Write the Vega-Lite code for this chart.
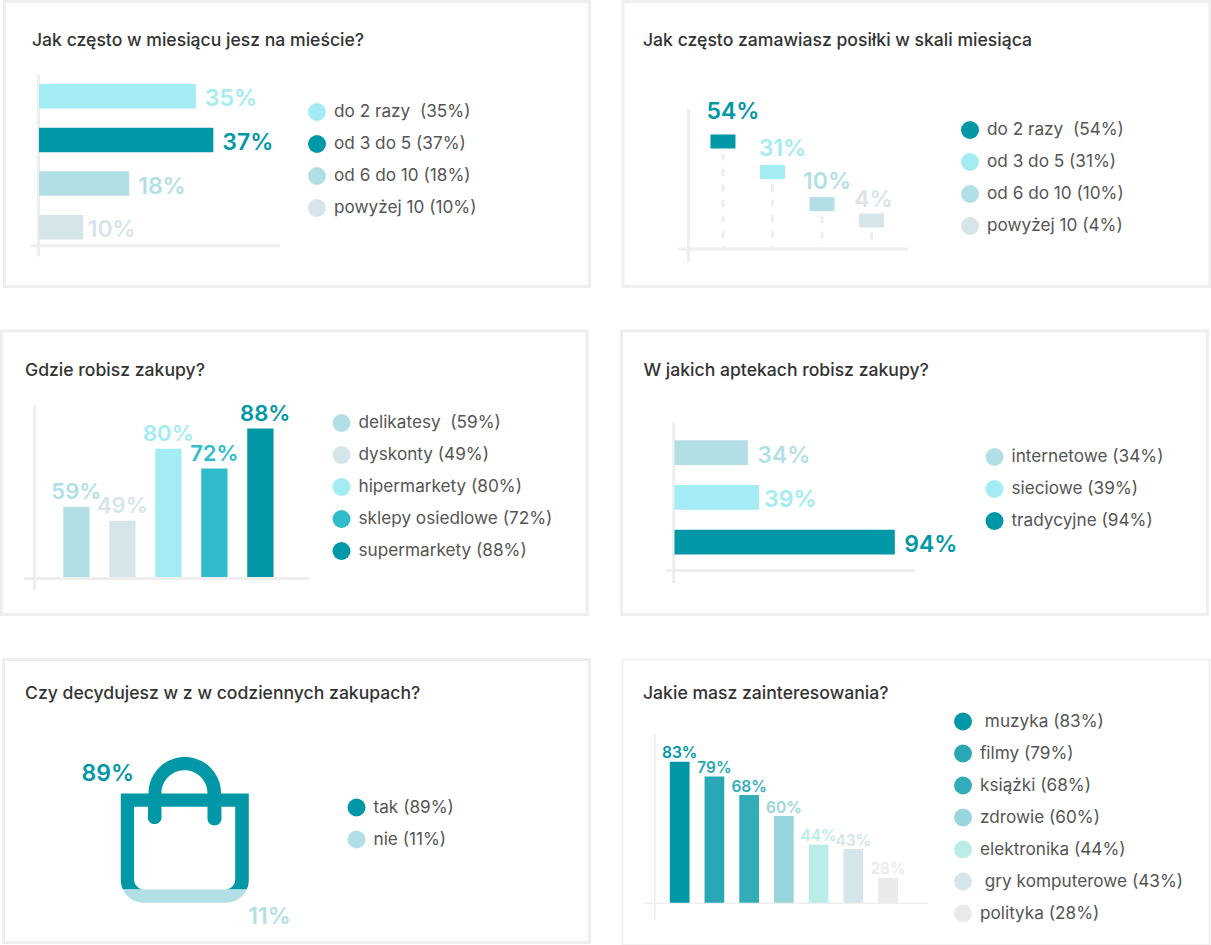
{
"$schema":"https://vega.github.io/schema/vega-lite/v6.json",
"padding":{"left":-1.5,"top":-1.5,"right":0,"bottom":0},"spacing":40.5,"background":"white",
"resolve":{"scale":{"color":"independent"}},
"config":{
"view":{"stroke":"#eeeeee","strokeWidth":3},
"axis":{"grid":false,"ticks":false,"labels":false,"domain":true,"domainColor":"#eeeeee","domainWidth":3},
"legend":{"symbolType":"circle","symbolSize":324,"symbolStrokeWidth":0,"labelFont":"Inter","labelFontSize":17.2,"labelFontWeight":400,"labelColor":"#555555","labelOffset":8,"rowPadding":14,"labelLimit":500,"symbolOpacity":1},
"title":{"font":"Inter","fontSize":17.6,"fontWeight":500,"color":"#333333","anchor":"start","frame":"group","offset":0,"baseline":"alphabetic"},
"text":{"font":"Inter","fontWeight":600,"fontSize":23}
},
"vconcat":[
{"bounds":"flush","spacing":2,"resolve":{"scale":{"color":"independent"}},"hconcat":[
{"width":1,"height":1,"data":{"values":[{}]},"mark":{"type":"point","opacity":0},"encoding":{},"view":{"stroke":null}},
{"bounds":"flush","spacing":33.5,"resolve":{"scale":{"color":"independent"}},"hconcat":[
{"width":585,"height":285,
"title":{"text":"Jak często w miesiącu jesz na mieście?","dx":27.5,"dy":52.5},
"data":{"values":[
{"kategoria":"do 2 razy \u00a0(35%)","value":34.1,"pct":"35%"},
{"kategoria":"od 3 do 5 (37%)","value":37.9,"pct":"37%"},
{"kategoria":"od 6 do 10 (18%)","value":19.6,"pct":"18%"},
{"kategoria":"powyżej 10 (10%)","value":9.6,"pct":"10%"}]},
"encoding":{
"x":{"field":"value","type":"quantitative","stack":null,"title":null,"scale":{"domain":[-1.957,52.28],"range":[25.5,275],"nice":false,"zero":false},"axis":{"offset":-41.2}},
"y":{"field":"kategoria","type":"nominal","sort":null,"title":null,"scale":{"range":[72.5,254.5],"paddingInner":0,"paddingOuter":0.086,"align":0.07},"axis":{"offset":-33.5}},
"color":{"field":"kategoria","type":"nominal","scale":{"domain":["do 2 razy \u00a0(35%)","od 3 do 5 (37%)","od 6 do 10 (18%)","powyżej 10 (10%)"],"range":["#A4ECF3","#0097A7","#B2DFE6","#D6E5E9"]},"legend":{"orient":"none","legendX":303.5,"legendY":101.5,"title":null}}
},
"layer":[
{"mark":{"type":"bar","size":24.5}},
{"transform":[{"filter":"datum.pct !== '10%'"}],"mark":{"type":"text","align":"left","baseline":"middle","dx":9,"dy":3},"encoding":{"text":{"field":"pct"}}},
{"transform":[{"filter":"datum.pct === '10%'"}],"mark":{"type":"text","align":"left","baseline":"middle","dx":4.5,"dy":3},"encoding":{"text":{"field":"pct"}}}
]},
{"width":587,"height":285,
"title":{"text":"Jak często zamawiasz posiłki w skali miesiąca","dx":20,"dy":52},
"data":{"values":[
{"kategoria":"do 2 razy \u00a0(54%)","value":54,"pct":"54%"},
{"kategoria":"od 3 do 5 (31%)","value":34.7,"pct":"31%"},
{"kategoria":"od 6 do 10 (10%)","value":14.4,"pct":"10%"},
{"kategoria":"powyżej 10 (4%)","value":4,"pct":"4%"}]},
"encoding":{
"x":{"field":"kategoria","type":"nominal","sort":null,"title":null,"scale":{"range":[54.3,285],"paddingInner":0,"paddingOuter":0.33,"align":0.64},"axis":{"offset":-38}},
"y":{"field":"value","type":"quantitative","title":null,"scale":{"domain":[-21.8,75],"range":[259.8,106.8],"nice":false,"zero":false},"axis":{"offset":-65}},
"color":{"field":"kategoria","type":"nominal","scale":{"domain":["do 2 razy \u00a0(54%)","od 3 do 5 (31%)","od 6 do 10 (10%)","powyżej 10 (4%)"],"range":["#0097A7","#A4ECF3","#B2DFE6","#D6E5E9"]},"legend":{"orient":"none","legendX":338,"legendY":119.5,"title":null}}
},
"layer":[
{"mark":{"type":"rule","strokeWidth":3,"strokeDash":[7,8.5],"strokeDashOffset":-12},"encoding":{"y2":{"datum":-13.7},"color":{"value":"#eeeeee"}}},
{"mark":{"type":"tick","size":25,"thickness":14,"opacity":1}},
{"transform":[{"filter":"datum.pct === '54%'"}],"mark":{"type":"text","align":"center","baseline":"alphabetic","dx":10,"dy":-22},"encoding":{"text":{"field":"pct"}}},
{"transform":[{"filter":"datum.pct === '31%'"}],"mark":{"type":"text","align":"center","baseline":"alphabetic","dx":10,"dy":-16},"encoding":{"text":{"field":"pct"}}},
{"transform":[{"filter":"datum.pct === '10%'"}],"mark":{"type":"text","align":"center","baseline":"alphabetic","dx":5,"dy":-15},"encoding":{"text":{"field":"pct"}}},
{"transform":[{"filter":"datum.pct === '4%'"}],"mark":{"type":"text","align":"center","baseline":"alphabetic","dx":2,"dy":-14},"encoding":{"text":{"field":"pct"}}}
]}
]}
]},
{"bounds":"flush","spacing":34,"resolve":{"scale":{"color":"independent"}},"hconcat":[
{"width":585.5,"height":283.5,
"title":{"text":"Gdzie robisz zakupy?","dx":23.5,"dy":52.5},
"data":{"values":[
{"kategoria":"delikatesy \u00a0(59%)","value":41.5,"pct":"59%"},
{"kategoria":"dyskonty (49%)","value":33.4,"pct":"49%"},
{"kategoria":"hipermarkety (80%)","value":76,"pct":"80%"},
{"kategoria":"sklepy osiedlowe (72%)","value":64.3,"pct":"72%"},
{"kategoria":"supermarkety (88%)","value":88,"pct":"88%"}]},
"encoding":{
"x":{"field":"kategoria","type":"nominal","sort":null,"title":null,"scale":{"range":[21.8,307.5],"paddingInner":0,"paddingOuter":0.605,"align":0.54},"axis":{"offset":-36.5}},
"y":{"field":"value","type":"quantitative","stack":null,"title":null,"scale":{"domain":[-7.7,102],"range":[259,74],"nice":false,"zero":false},"axis":{"offset":-32.5}},
"color":{"field":"kategoria","type":"nominal","scale":{"domain":["delikatesy \u00a0(59%)","dyskonty (49%)","hipermarkety (80%)","sklepy osiedlowe (72%)","supermarkety (88%)"],"range":["#B2DFE6","#D6E5E9","#A4ECF3","#30BCCA","#0097A7"]},"legend":{"orient":"none","legendX":331,"legendY":83,"title":null}}
},
"layer":[
{"mark":{"type":"bar","size":26.3}},
{"transform":[{"filter":"datum.pct !== '88%'"}],"mark":{"type":"text","align":"center","baseline":"alphabetic","dy":-8,"fontSize":22},"encoding":{"text":{"field":"pct"}}},
{"transform":[{"filter":"datum.pct === '88%'"}],"mark":{"type":"text","align":"center","baseline":"alphabetic","dx":4.8,"dy":-8,"fontSize":22},"encoding":{"text":{"field":"pct"}}}
]},
{"width":586,"height":283.5,
"title":{"text":"W jakich aptekach robisz zakupy?","dx":22,"dy":52.5},
"data":{"values":[
{"kategoria":"internetowe (34%)","value":31.3,"pct":"34%"},
{"kategoria":"sieciowe (39%)","value":36.1,"pct":"39%"},
{"kategoria":"tradycyjne (94%)","value":94,"pct":"94%"}]},
"encoding":{
"x":{"field":"value","type":"quantitative","stack":null,"title":null,"scale":{"domain":[-4.14,102.1],"range":[43.3,292.3],"nice":false,"zero":false},"axis":{"offset":-44.5}},
"y":{"field":"kategoria","type":"nominal","sort":null,"title":null,"scale":{"range":[90.7,251.7],"paddingInner":0,"paddingOuter":0.297,"align":0.32},"axis":{"offset":-51.7}},
"color":{"field":"kategoria","type":"nominal","scale":{"domain":["internetowe (34%)","sieciowe (39%)","tradycyjne (94%)"],"range":["#B2DFE6","#A4ECF3","#0097A7"]},"legend":{"orient":"none","legendX":364,"legendY":117,"title":null}}
},
"layer":[
{"mark":{"type":"bar","size":24.7}},
{"transform":[{"filter":"datum.pct !== '39%'"}],"mark":{"type":"text","align":"left","baseline":"middle","dx":9.5,"dy":3},"encoding":{"text":{"field":"pct"}}},
{"transform":[{"filter":"datum.pct === '39%'"}],"mark":{"type":"text","align":"left","baseline":"middle","dx":5,"dy":3},"encoding":{"text":{"field":"pct"}}}
]}
]},
{"bounds":"flush","spacing":1,"resolve":{"scale":{"color":"independent"}},"hconcat":[
{"width":1,"height":1,"data":{"values":[{}]},"mark":{"type":"point","opacity":0},"encoding":{},"view":{"stroke":null}},
{"bounds":"flush","spacing":33,"resolve":{"scale":{"color":"independent"}},"hconcat":[
{"width":586,"height":283,
"title":{"text":"Czy decydujesz w z w codziennych zakupach?","dx":21.5,"dy":47.5},
"data":{"values":[
{"kategoria":"tak (89%)","value":89,"pct":"89%"},
{"kategoria":"nie (11%)","value":11,"pct":"11%"}]},
"encoding":{
"x":{"datum":0,"type":"quantitative","title":null,"scale":{"domain":[-1,1],"range":[131.3,231.3],"nice":false,"zero":false},"axis":null},
"y":{"datum":0,"type":"quantitative","title":null,"scale":{"domain":[-1,1],"range":[220,120],"nice":false,"zero":false},"axis":null},
"color":{"field":"kategoria","type":"nominal","scale":{"domain":["tak (89%)","nie (11%)"],"range":["#0097A7","#B2DFE6"]},"legend":{"orient":"none","legendX":344,"legendY":139,"title":null,"symbolType":"circle","symbolSize":324}}
},
"layer":[
{"transform":[{"filter":"datum.pct === '89%'"}],"mark":{"type":"point","filled":true,"opacity":1,"strokeWidth":0,"size":4,"shape":"M-64 -36L64 -36L64 50.3A23 23 0 0 1 61.9 60L-61.9 60A23 23 0 0 1 -64 50.3ZM-50.7 -22.7L-50.7 50A10 10 0 0 0 -40.7 60L40.4 60A10 10 0 0 0 50.4 50L50.4 -22.7ZM-36.3 -36.3A36.3 36.3 0 0 1 36.3 -36.3L36.7 -11A7 7 0 0 1 22.7 -11L22.7 -36.3A23 23 0 0 0 -23.3 -36.3L-23.3 -11A7 7 0 0 1 -37 -11Z"}},
{"transform":[{"filter":"datum.pct === '11%'"}],"mark":{"type":"point","filled":true,"opacity":1,"strokeWidth":0,"size":4,"shape":"M-61.9 60L61.9 60A23 23 0 0 1 41 73.3L-41 73.3A23 23 0 0 1 -61.9 60Z"}},
{"transform":[{"filter":"datum.pct === '89%'"}],"mark":{"type":"text","align":"center","baseline":"alphabetic","dx":-77,"dy":-48.3},"encoding":{"text":{"field":"pct"}}},
{"transform":[{"filter":"datum.pct === '11%'"}],"mark":{"type":"text","align":"center","baseline":"alphabetic","dx":84.7,"dy":94.3},"encoding":{"text":{"field":"pct"}}}
]},
{"width":587,"height":285.5,
"view":{"stroke":"#eeeeee","strokeWidth":1.5},
"title":{"text":"Jakie masz zainteresowania?","dx":20.5,"dy":47.5},
"data":{"values":[
{"kategoria":"\u200b\u00a0muzyka (83%)","value":83,"pct":"83%"},
{"kategoria":"filmy (79%)","value":74.3,"pct":"79%"},
{"kategoria":"książki (68%)","value":63.4,"pct":"68%"},
{"kategoria":"zdrowie (60%)","value":51,"pct":"60%"},
{"kategoria":"elektronika (44%)","value":34.1,"pct":"44%"},
{"kategoria":"\u200b\u00a0gry komputerowe (43%)","value":31.6,"pct":"43%"},
{"kategoria":"polityka (28%)","value":14.7,"pct":"28%"}]},
"encoding":{
"x":{"field":"kategoria","type":"nominal","sort":null,"title":null,"scale":{"range":[20.8,305.2],"paddingInner":0,"paddingOuter":0.595,"align":0.46},"axis":{"offset":-42.2,"domainWidth":1.5}},
"y":{"field":"value","type":"quantitative","stack":null,"title":null,"scale":{"domain":[-9.4,99.6],"range":[259.3,74],"nice":false,"zero":false},"axis":{"offset":-31.8,"domainWidth":1.5}},
"color":{"field":"kategoria","type":"nominal","scale":{"domain":["\u200b\u00a0muzyka (83%)","filmy (79%)","książki (68%)","zdrowie (60%)","elektronika (44%)","\u200b\u00a0gry komputerowe (43%)","polityka (28%)"],"range":["#0097A7","#2AA7B4","#33ACB9","#98D5DD","#BAECE8","#D5E5E9","#ECE9E9"]},"legend":{"orient":"none","legendX":331.5,"legendY":53,"title":null}}
},
"layer":[
{"mark":{"type":"bar","size":19.7}},
{"mark":{"type":"text","align":"center","baseline":"alphabetic","dy":-3.5,"fontSize":15.5},"encoding":{"text":{"field":"pct"}}}
]}
]}
]}
]
}
